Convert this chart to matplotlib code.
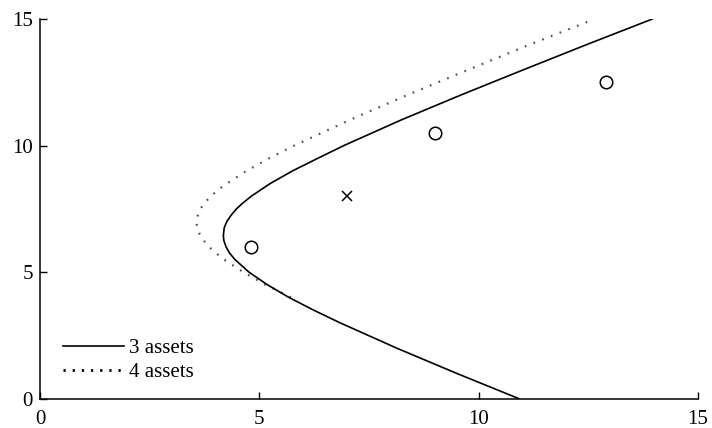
import matplotlib.pyplot as plt
from matplotlib.lines import Line2D

# frontier with 3 assets (x = risk, y = expected return)
solid_y = [0, 1, 2, 3, 3.5, 4, 4.5, 5, 5.5, 5.75, 6, 6.25, 6.46, 6.75, 7, 7.25, 7.5,
           7.75, 8, 8.5, 9, 9.5, 10, 11, 12, 13, 14, 15]
solid_x = [10.91, 9.49, 8.12, 6.83, 6.23, 5.67, 5.18, 4.76, 4.44, 4.32, 4.24, 4.19,
           4.18, 4.20, 4.26, 4.36, 4.48, 4.64, 4.82, 5.25, 5.76, 6.34, 6.93, 8.22,
           9.60, 11.03, 12.48, 13.96]

# frontier with 4 assets
dotted_y = [4.0, 4.5, 5, 5.5, 5.75, 6, 6.25, 6.5, 6.75, 6.96, 7.25, 7.5, 7.75, 8,
            8.25, 8.5, 9, 9.5, 10, 11, 12, 13, 14, 14.9]
dotted_x = [5.72, 5.14, 4.63, 4.19, 4.01, 3.85, 3.73, 3.64, 3.58, 3.57, 3.60, 3.66,
            3.76, 3.90, 4.06, 4.26, 4.71, 5.23, 5.80, 7.05, 8.38, 9.77, 11.18, 12.5]

# individual assets
asset_x = [4.8, 9.0, 12.9]
asset_y = [6.0, 10.5, 12.5]
new_asset_x = [7.0]
new_asset_y = [8.0]

plt.rcParams["font.family"] = ["Liberation Serif", "DejaVu Serif"]

fig = plt.figure(figsize=(7.12, 4.28), dpi=100)
ax = fig.add_axes([0.0562, 0.0689, 0.9241, 0.8867])

ax.plot(dotted_x, dotted_y, color="#555555", linewidth=1.6,
        linestyle=(0, (0.8, 3.4)), zorder=2)
ax.plot(solid_x, solid_y, color="black", linewidth=1.2, zorder=3)
ax.plot(asset_x, asset_y, linestyle="none", marker="o", markersize=9,
        markerfacecolor="white", markeredgecolor="black", markeredgewidth=1.1, zorder=4)
ax.plot(new_asset_x, new_asset_y, linestyle="none", marker="x", markersize=7,
        color="black", markeredgewidth=1.1, zorder=4)

ax.set_xlim(0, 15)
ax.set_ylim(0, 15)
ax.set_xticks([0, 5, 10, 15])
ax.set_yticks([0, 5, 10, 15])
ax.tick_params(direction="in", length=5, width=1, labelsize=15, pad=5)
ax.tick_params(axis="x", pad=8)
for side in ("top", "right"):
    ax.spines[side].set_visible(False)
for side in ("left", "bottom"):
    ax.spines[side].set_linewidth(1.1)

handles = [
    Line2D([], [], color="black", linewidth=1.2),
    Line2D([], [], color="black", linewidth=2.0, linestyle=(0, (0.8, 2.5))),
]
ax.legend(handles, ["3 assets", "4 assets"], loc="lower left",
          bbox_to_anchor=(0.01, 0.0), frameon=False, fontsize=15,
          handlelength=2.9, handletextpad=0.25, labelspacing=0.2,
          borderpad=0.3)

fig.savefig("out.png", dpi=100)
